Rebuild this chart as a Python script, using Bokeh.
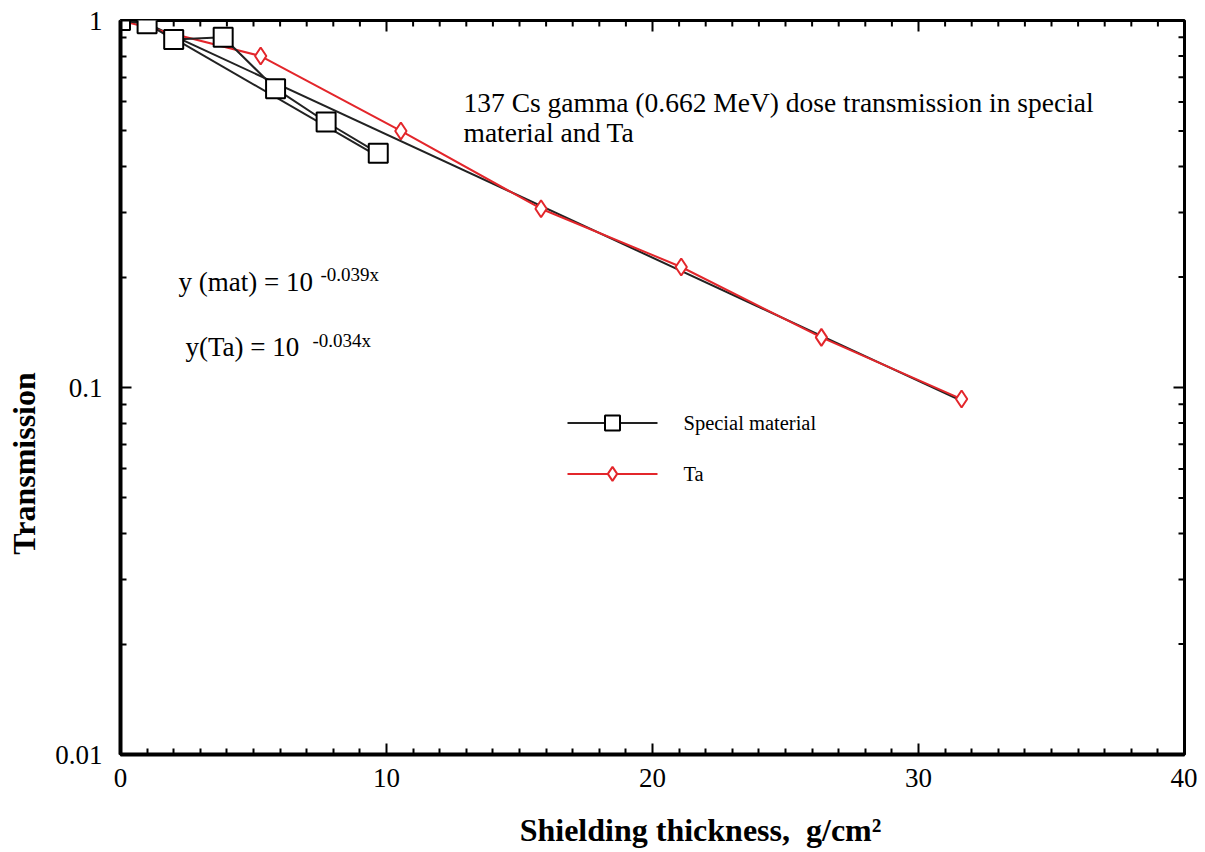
from bokeh.plotting import figure
from bokeh.models import FixedTicker, Label, Range1d
from bokeh.embed import file_html
from bokeh.resources import INLINE

# ---- data ----
mat_x = [0.0, 1.0, 2.0, 3.86, 5.83, 7.73, 9.69]
mat_y = [1.0, 0.98, 0.887, 0.90, 0.652, 0.529, 0.435]
ta_x = [0.0, 5.27, 10.54, 15.81, 21.08, 26.35, 31.62]
ta_y = [1.0, 0.80, 0.50, 0.307, 0.213, 0.137, 0.093]
mat_fit_x = [1.0, 9.6]
mat_fit_y = [0.985, 0.43]
ta_fit_x = [0.75, 31.62]
ta_fit_y = [1.0, 0.092]
x_ticks = [0, 10, 20, 30, 40]
y_ticks = [0.01, 0.1, 1]
y_tick_labels = {0.01: "0.01", 0.1: "0.1", 1: "1"}

SERIF = "Liberation Serif"
RED = "#e3262b"
NB = "\u00a0"

# frame geometry (canvas pixels)
L, T, FW, FH = 120, 20, 1064, 735
W, H = 1197, 850

p = figure(width=W, height=H, x_axis_type="linear", y_axis_type="log",
           x_range=Range1d(0, 40), y_range=Range1d(0.01, 1),
           output_backend="svg", toolbar_location=None,
           min_border_left=L, min_border_top=T,
           min_border_right=W - L - FW, min_border_bottom=H - T - FH)
p.outline_line_color = "black"
p.outline_line_width = 3
p.grid.visible = False
p.background_fill_color = "white"
p.border_fill_color = "white"

xminor = [i for i in range(1, 40) if i % 10]
yminor = [k * 10 ** e for e in (-2, -1) for k in range(2, 10)]


def style(ax, lw):
    ax.axis_line_width = lw
    ax.axis_line_color = "black"
    ax.major_tick_in = 11
    ax.major_tick_out = 0
    ax.minor_tick_in = 6
    ax.minor_tick_out = 0
    ax.major_tick_line_width = 2
    ax.minor_tick_line_width = 2
    ax.major_tick_line_color = "black"
    ax.minor_tick_line_color = "black"
    ax.major_label_text_font = SERIF
    ax.major_label_text_font_size = "27px"
    ax.major_label_text_color = "black"
    ax.axis_label_text_font = SERIF
    ax.axis_label_text_font_size = "32px"
    ax.axis_label_text_font_style = "bold"
    ax.axis_label_text_color = "black"


xa = p.xaxis[0]
xa.ticker = FixedTicker(ticks=x_ticks, minor_ticks=xminor)
style(xa, 4)
xa.major_label_standoff = 14
xa.axis_label = NB * 12 + "Shielding thickness," + NB + " g/cm\u00b2"
xa.axis_label_standoff = 22
ya = p.yaxis[0]
ya.ticker = FixedTicker(ticks=y_ticks, minor_ticks=yminor)
ya.major_label_overrides = y_tick_labels
style(ya, 4)
ya.major_label_standoff = 18
ya.axis_label = "Transmission" + NB * 19
ya.axis_label_standoff = 10

# mirrored inward ticks on the top and right edges
px_x = 40 / FW           # data units per pixel, x
dec_px = 2 / FH          # decades per pixel, y
tx = x_ticks[1:-1]
p.segment(x0=tx, y0=[1] * len(tx), x1=tx, y1=[10 ** (-11 * dec_px)] * len(tx),
          line_color="black", line_width=2)
p.segment(x0=xminor, y0=[1] * len(xminor), x1=xminor,
          y1=[10 ** (-6 * dec_px)] * len(xminor), line_color="black", line_width=2)
ty = y_ticks[1:-1]
p.segment(x0=[40] * len(ty), y0=ty, x1=[40 - 11 * px_x] * len(ty), y1=ty,
          line_color="black", line_width=2)
p.segment(x0=[40] * len(yminor), y0=yminor, x1=[40 - 6 * px_x] * len(yminor),
          y1=yminor, line_color="black", line_width=2)


# helpers converting reference pixels to data coordinates (for text placement)
def dx(px):
    return (px - L) / (FW / 40)


def dy(py):
    return 10 ** (-(py - T) / (FH / 2))


# fit lines
p.line(ta_fit_x, ta_fit_y, line_color="#222222", line_width=2)
p.line(mat_fit_x, mat_fit_y, line_color="#222222", line_width=2)

# data
p.line(ta_x, ta_y, line_color=RED, line_width=2)
p.scatter(ta_x, ta_y, marker="diamond", size=17, fill_color="white",
          line_color=RED, line_width=2)
p.line(mat_x, mat_y, line_color="#222222", line_width=2)
p.scatter(mat_x, mat_y, marker="square", size=19, fill_color="white",
          line_color="black", line_width=2)

# legend (drawn by hand)
p.line([dx(567), dx(657)], [dy(423), dy(423)], line_color="#222222", line_width=2)
p.scatter([dx(612)], [dy(423)], marker="square", size=15, fill_color="white",
          line_color="black", line_width=2)
p.line([dx(567), dx(657)], [dy(474), dy(474)], line_color=RED, line_width=2)
p.scatter([dx(612)], [dy(474)], marker="diamond", size=14, fill_color="white",
          line_color=RED, line_width=2)


def lab(text, px, py, size):
    p.add_layout(Label(x=dx(px), y=dy(py), text=text,
                       text_font=SERIF, text_font_size=size,
                       text_baseline="middle", text_align="left",
                       text_color="black"))


lab("Special material", 683, 423, "20.5px")
lab("Ta", 683, 474, "20.5px")
lab("137 Cs gamma (0.662 MeV) dose transmission in special", 463, 102, "27.5px")
lab("material and Ta", 463, 132, "27.5px")
lab("y (mat) = 10", 178, 282, "27px")
lab("-0.039x", 320, 274, "19px")
lab("y(Ta) = 10", 185, 347, "27px")
lab("-0.034x", 312, 340, "19px")

open("out.html", "w").write(file_html(p, INLINE))
